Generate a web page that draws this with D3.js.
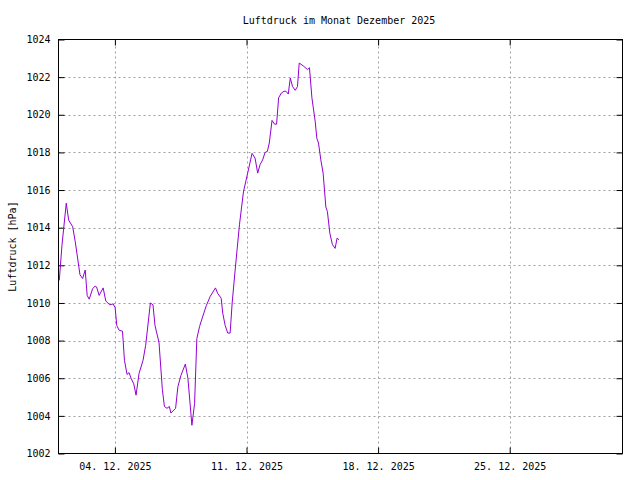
<!DOCTYPE html>
<html>
<head>
<meta charset="utf-8">
<script src="https://cdn.jsdelivr.net/npm/d3@7"></script>
<style>
  body { margin: 0; background: #fff; }
  text { font-family: "DejaVu Sans Mono", monospace; font-size: 10px; fill: #000; }
</style>
</head>
<body>
<div id="chart"></div>
<script>
// hours after 01.12.2025 00:00 and pressure readings in hPa
const hours = [1.0, 4.5, 9.9, 13.0, 18.1, 21.4, 27.4, 30.8, 34.1, 36.6, 39.2, 43.5, 46.8, 48.6,
  51.9, 57.0, 60.4, 65.5, 69.7, 72.3, 74.4, 77.4, 81.7, 84.2, 87.5, 90.1, 92.6, 96.1, 99.0,
  102.8, 107.9, 111.3, 117.3, 120.6, 123.2, 128.3, 132.6, 135.2, 138.5, 141.5, 143.5, 149.5,
  152.4, 156.3, 161.9, 165.2, 170.3, 173.7, 176.6, 180.1, 183.5, 188.6, 193.7, 200.4, 203.3,
  207.7, 209.7, 212.8, 216.1, 219.1, 221.7, 225.5, 231.0, 236.1, 241.5, 247.1, 250.9, 254.3,
  257.3, 260.6, 263.7, 266.6, 269.1, 272.6, 275.9, 278.4, 281.0, 284.4, 287.8, 290.4, 293.3,
  295.9, 298.8, 302.2, 305.1, 307.3, 312.4, 317.9, 320.4, 323.5, 327.7, 329.8, 331.9, 334.9,
  337.8, 341.3, 343.3, 346.4, 349.7, 353.1, 355.7, 358.2];
const pressure = [1011.2, 1013.1, 1015.3, 1014.4, 1014.05, 1013.25, 1011.5, 1011.3, 1011.75,
  1010.4, 1010.2, 1010.75, 1010.9, 1010.85, 1010.4, 1010.8, 1010.1, 1009.9, 1009.95, 1009.75,
  1008.8, 1008.55, 1008.5, 1006.95, 1006.2, 1006.3, 1006.0, 1005.7, 1005.1, 1006.25, 1006.95,
  1007.75, 1010.0, 1009.9, 1008.8, 1007.9, 1005.4, 1004.5, 1004.4, 1004.5, 1004.15, 1004.4,
  1005.55, 1006.15, 1006.75, 1006.0, 1003.5, 1004.65, 1008.1, 1008.75, 1009.2, 1009.85,
  1010.35, 1010.8, 1010.5, 1010.25, 1009.45, 1008.8, 1008.4, 1008.4, 1010.0, 1011.75, 1014.15,
  1015.9, 1016.9, 1017.95, 1017.7, 1016.9, 1017.35, 1017.6, 1018.0, 1018.05, 1018.5, 1019.7,
  1019.5, 1019.5, 1020.9, 1021.15, 1021.25, 1021.25, 1021.1, 1021.95, 1021.5, 1021.3, 1021.5,
  1022.75, 1022.6, 1022.4, 1022.5, 1020.9, 1019.65, 1018.75, 1018.5, 1017.6, 1016.9, 1015.1,
  1014.85, 1013.7, 1013.1, 1012.9, 1013.45, 1013.35];
const xTicks = ["2025-12-04", "2025-12-11", "2025-12-18", "2025-12-25"];
const yTicks = [1002, 1004, 1006, 1008, 1010, 1012, 1014, 1016, 1018, 1020, 1022, 1024];
const title = "Luftdruck im Monat Dezember 2025";
const yLabel = "Luftdruck [hPa]";

const width = 640, height = 480;
const margin = {top: 39.5, right: 17.5, bottom: 26.5, left: 58.5};

const start = new Date(2025, 11, 1);
const data = hours.map((h, i) => ({t: new Date(start.getTime() + h * 3600e3), v: pressure[i]}));
const parse = d3.timeParse("%Y-%m-%d");
const fmt = d3.timeFormat("%d. %m. %Y");

const x = d3.scaleTime()
  .domain([start, new Date(2025, 11, 31)])
  .range([margin.left, width - margin.right]);
const y = d3.scaleLinear()
  .domain([1002, 1024])
  .range([height - margin.bottom, margin.top]);

const svg = d3.select('#chart').append('svg')
  .attr('width', width)
  .attr('height', height);

// grid
const grid = svg.append('g').attr('stroke', '#a0a0a0').attr('stroke-dasharray', '2,3').attr('stroke-width', 1);
grid.selectAll('.gx').data(xTicks.map(parse)).enter().append('line')
  .attr('x1', d => Math.round(x(d)) + 0.5).attr('x2', d => Math.round(x(d)) + 0.5)
  .attr('y1', y(1002)).attr('y2', y(1024));
grid.selectAll('.gy').data(yTicks.slice(1, -1)).enter().append('line')
  .attr('x1', x.range()[0]).attr('x2', x.range()[1])
  .attr('y1', d => Math.round(y(d)) + 0.5).attr('y2', d => Math.round(y(d)) + 0.5);

// axes with mirrored inward ticks
const xAxis = d3.axisBottom(x).tickValues(xTicks.map(parse)).tickFormat(fmt).tickSizeInner(-6).tickSizeOuter(0).tickPadding(9);
const yAxis = d3.axisLeft(y).tickValues(yTicks).tickFormat(d3.format('d')).tickSizeInner(-6).tickSizeOuter(0).tickPadding(8);

svg.append('g').attr('transform', `translate(0,${y(1002)})`).call(xAxis);
svg.append('g').attr('transform', `translate(0,${y(1024)})`)
  .call(d3.axisTop(x).tickValues(xTicks.map(parse)).tickFormat('').tickSizeInner(-6).tickSizeOuter(0));
svg.append('g').attr('transform', `translate(${x.range()[0]},0)`).call(yAxis);
svg.append('g').attr('transform', `translate(${x.range()[1]},0)`)
  .call(d3.axisRight(y).tickValues(yTicks).tickFormat('').tickSizeInner(-6).tickSizeOuter(0));
svg.selectAll('.domain').remove();
svg.selectAll('.tick line').attr('stroke', '#000');
svg.selectAll('.tick text').style('font-family', '"DejaVu Sans Mono", monospace').style('font-size', '10px');

// frame
svg.append('rect')
  .attr('x', x.range()[0]).attr('y', y(1024))
  .attr('width', x.range()[1] - x.range()[0]).attr('height', y(1002) - y(1024))
  .attr('fill', 'none').attr('stroke', '#000');

// pressure line
svg.append('path')
  .datum(data)
  .attr('fill', 'none')
  .attr('stroke', '#9400d3')
  .attr('stroke-width', 1)
  .attr('d', d3.line().x(d => x(d.t)).y(d => y(d.v)));

svg.append('text')
  .attr('x', 339).attr('y', 24)
  .attr('text-anchor', 'middle')
  .text(title);
svg.append('text')
  .attr('transform', `translate(16,${(y(1002) + y(1024)) / 2}) rotate(-90)`)
  .attr('text-anchor', 'middle')
  .text(yLabel);
</script>
</body>
</html>
